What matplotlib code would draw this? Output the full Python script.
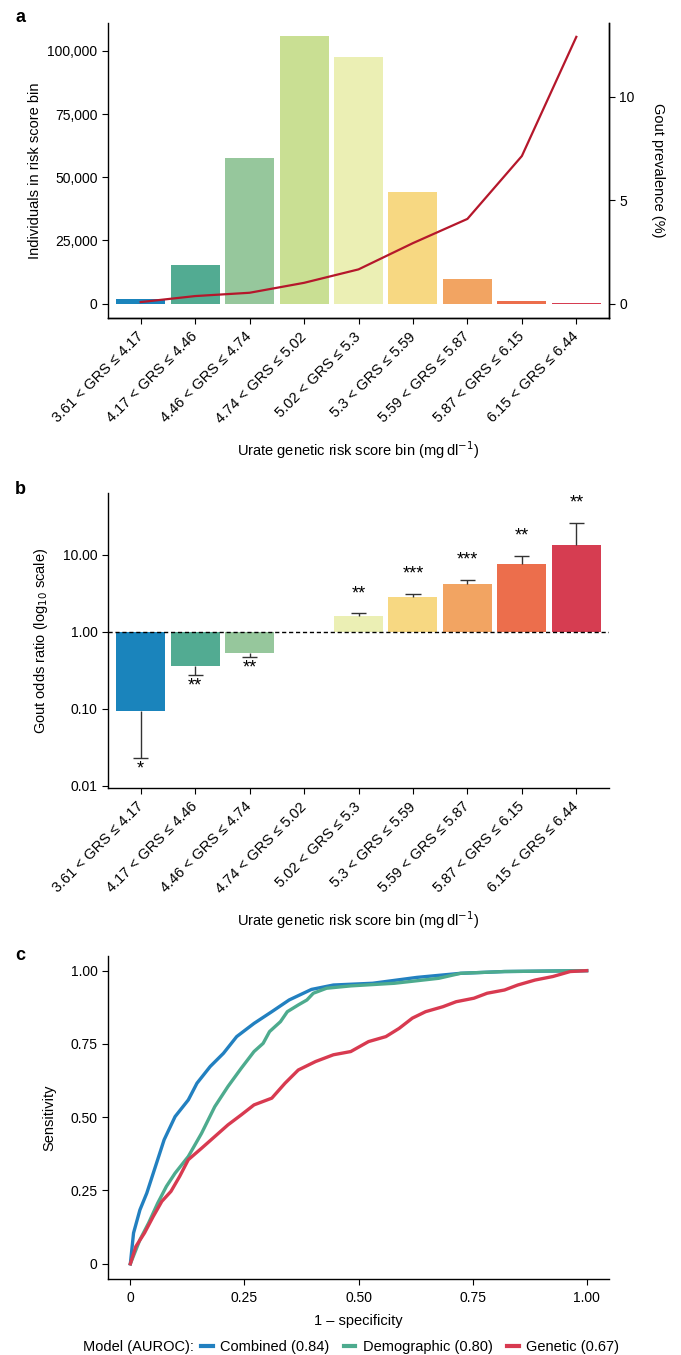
import numpy as np
import matplotlib
matplotlib.use("Agg")
import matplotlib.pyplot as plt
from matplotlib.lines import Line2D

plt.rcParams['font.family'] = ['Liberation Sans', 'DejaVu Sans']
plt.rcParams['font.size'] = 10

# --- data ---
bins = ['3.61 < GRS ≤ 4.17', '4.17 < GRS ≤ 4.46', '4.46 < GRS ≤ 4.74',
        '4.74 < GRS ≤ 5.02', '5.02 < GRS ≤ 5.3', '5.3 < GRS ≤ 5.59',
        '5.59 < GRS ≤ 5.87', '5.87 < GRS ≤ 6.15', '6.15 < GRS ≤ 6.44']
bin_colors = ['#1a84bc', '#52ab92', '#96c79c', '#c9df93', '#ebefb4',
              '#f7d882', '#f2a462', '#ec6e4c', '#d63d51']

counts = [2000, 15400, 57600, 105900, 97500, 44200, 9900, 1200, 130]
prevalence = [0.08, 0.37, 0.53, 1.01, 1.66, 2.93, 4.10, 7.14, 12.9]

odds = [0.093, 0.365, 0.53, np.nan, 1.63, 2.88, 4.24, 7.71, 13.5]
odds_err = [0.023, 0.28, 0.47, np.nan, 1.75, 3.15, 4.78, 9.7, 26.0]
stars = ['*', '**', '**', '', '**', '***', '***', '**', '**']

comb_x = [0, 0.007, 0.021, 0.036, 0.055, 0.074, 0.098, 0.127, 0.146, 0.175, 0.204,
          0.233, 0.271, 0.310, 0.348, 0.397, 0.445, 0.531, 0.628, 0.724, 0.820, 1.0]
comb_y = [0, 0.105, 0.184, 0.241, 0.332, 0.423, 0.502, 0.559, 0.616, 0.673, 0.718,
          0.775, 0.820, 0.860, 0.900, 0.936, 0.951, 0.957, 0.977, 0.991, 0.997, 1.0]
demo_x = [0, 0.021, 0.040, 0.060, 0.079, 0.098, 0.127, 0.156, 0.185, 0.214, 0.243,
          0.271, 0.291, 0.305, 0.329, 0.344, 0.368, 0.387, 0.401, 0.430, 0.483,
          0.579, 0.676, 0.724, 0.820, 1.0]
demo_y = [0, 0.082, 0.139, 0.207, 0.264, 0.309, 0.366, 0.445, 0.536, 0.605, 0.667,
          0.724, 0.752, 0.792, 0.826, 0.860, 0.883, 0.900, 0.923, 0.940, 0.948,
          0.957, 0.974, 0.991, 0.997, 1.0]
gen_x = [0, 0.012, 0.031, 0.050, 0.069, 0.089, 0.108, 0.127, 0.156, 0.185, 0.214,
         0.243, 0.271, 0.310, 0.339, 0.368, 0.406, 0.445, 0.483, 0.522, 0.560,
         0.589, 0.618, 0.647, 0.685, 0.714, 0.753, 0.782, 0.820, 0.849, 0.887,
         0.926, 0.964, 1.0]
gen_y = [0, 0.059, 0.105, 0.161, 0.213, 0.247, 0.298, 0.355, 0.394, 0.434, 0.474,
         0.508, 0.542, 0.565, 0.616, 0.661, 0.690, 0.713, 0.724, 0.758, 0.775,
         0.803, 0.838, 0.860, 0.877, 0.894, 0.906, 0.923, 0.934, 0.951, 0.968,
         0.980, 0.997, 1.0]

roc_labels = ['Combined (0.84)', 'Demographic (0.80)', 'Genetic (0.67)']
roc_colors = ['#2280c0', '#4dab8e', '#d83a50']

fig = plt.figure(figsize=(6.81, 13.55), dpi=100)
x = np.arange(len(bins))
W, H = 681, 1355

def box(l, t, r, b):
    return [l / W, 1 - b / H, (r - l) / W, (b - t) / H]

def style(ax):
    ax.spines['top'].set_visible(False)
    ax.tick_params(direction='out', length=4, width=0.8, labelsize=10)
    for s in ax.spines.values():
        s.set_linewidth(1.0)

def bin_ticks(ax):
    ax.set_xticks(x)
    ax.set_xticklabels(bins, rotation=45, ha='right', va='center',
                       rotation_mode='anchor', fontsize=10.5)
    ax.tick_params(axis='x', pad=8)

xlab = 'Urate genetic risk score bin (mg\u2009dl$^{-1}$)'

# --- panel a ---
ax1 = fig.add_axes(box(108, 23, 609, 318))
ax1.bar(x, counts, width=0.9, color=bin_colors, zorder=2)
ax1.set_xlim(-0.6, 8.6)
ax1.set_ylim(-5660, 111000)
ax1.set_yticks([0, 25000, 50000, 75000, 100000])
ax1.set_yticklabels(['0', '25,000', '50,000', '75,000', '100,000'])
style(ax1)
bin_ticks(ax1)
ax1.set_ylabel('Individuals in risk score bin', fontsize=10.5)
ax1.set_xlabel(xlab, fontsize=10.5, labelpad=10)
ax1r = ax1.twinx()
ax1r.plot(x, prevalence, color='#b5172b', lw=1.6, zorder=3)
ax1r.set_ylim(-0.69, 13.57)
ax1r.set_yticks([0, 5, 10])
ax1r.set_ylabel('Gout prevalence (%)', rotation=270, labelpad=22, fontsize=10.5)
style(ax1r)
ax1r.spines['left'].set_visible(False)

# --- panel b ---
ax2 = fig.add_axes(box(108, 493, 609, 788))
ax2.set_yscale('log')
for i in range(len(bins)):
    if np.isnan(odds[i]):
        continue
    ax2.bar(x[i], odds[i] - 1, bottom=1, width=0.9, color=bin_colors[i], zorder=2)
    ax2.vlines(x[i], odds[i], odds_err[i], color='#333333', lw=1.0, zorder=3)
    ax2.hlines(odds_err[i], x[i] - 0.14, x[i] + 0.14, color='#333333', lw=1.0, zorder=3)
    if odds[i] > 1:
        ax2.annotate(stars[i], (x[i], odds_err[i]), xytext=(0, 8), textcoords='offset points',
                     ha='center', va='bottom', fontsize=13)
    else:
        ax2.annotate(stars[i], (x[i], odds_err[i]), xytext=(0, -2), textcoords='offset points',
                     ha='center', va='top', fontsize=13)
ax2.axhline(1, color='black', lw=1.0, ls=(0, (3, 2)), zorder=4)
ax2.set_xlim(-0.6, 8.6)
ax2.set_ylim(0.0094, 63.8)
ax2.set_yticks([0.01, 0.1, 1, 10])
ax2.set_yticklabels(['0.01', '0.10', '1.00', '10.00'])
ax2.minorticks_off()
style(ax2)
bin_ticks(ax2)
ax2.set_ylabel('Gout odds ratio (log$_{10}$ scale)', fontsize=10.5, labelpad=9)
ax2.set_xlabel(xlab, fontsize=10.5, labelpad=10)
ax2.spines['right'].set_visible(False)

# --- panel c ---
ax3 = fig.add_axes(box(108, 956, 609, 1279))
for xs, ys, c in zip([comb_x, demo_x, gen_x], [comb_y, demo_y, gen_y], roc_colors):
    ax3.plot(xs, ys, color=c, lw=2.4)
ax3.set_xlim(-0.049, 1.049)
ax3.set_ylim(-0.052, 1.05)
ticks = [0, 0.25, 0.5, 0.75, 1.0]
ticklabels = ['0', '0.25', '0.50', '0.75', '1.00']
ax3.set_xticks(ticks)
ax3.set_xticklabels(ticklabels)
ax3.set_yticks(ticks)
ax3.set_yticklabels(ticklabels)
style(ax3)
ax3.tick_params(axis='x', pad=5)
ax3.set_xlabel('1 – specificity', fontsize=10.5, labelpad=6)
ax3.set_ylabel('Sensitivity', fontsize=10.5, labelpad=10)
ax3.spines['right'].set_visible(False)

handles = [Line2D([0], [0], color=c, lw=3) for c in roc_colors]
fig.text(83 / W, 1 - 1347 / H, 'Model (AUROC):', fontsize=10.5, va='center', ha='left')
fig.legend(handles, roc_labels, ncol=3, loc='center left',
           bbox_to_anchor=(195 / W, 1 - 1347 / H), frameon=False, fontsize=10.5,
           handlelength=0.8, handletextpad=0.5, columnspacing=1.0, borderaxespad=0)

for lab, yy in zip(['a', 'b', 'c'], [18, 490, 955]):
    fig.text(15 / W, 1 - yy / H, lab, fontsize=13, fontweight='bold', va='center', ha='left')

fig.savefig('out.png', dpi=100)
